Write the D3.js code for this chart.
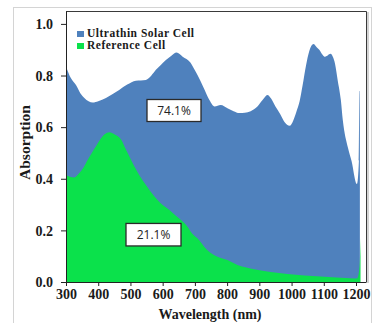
<!DOCTYPE html>
<html>
<head>
<meta charset="utf-8">
<script src="https://cdn.jsdelivr.net/npm/d3@7/dist/d3.min.js"></script>
<style>
  html, body { margin: 0; padding: 0; background: #ffffff; }
  svg { display: block; }
</style>
</head>
<body>
<svg id="chart" width="376" height="323"></svg>
<script>
// Absorption spectra: ultrathin solar cell vs. reference cell
const ultrathinWavelength = [300, 315, 331, 345, 357, 370, 383, 400, 424, 445, 465, 490, 517, 548, 565, 579, 595, 610, 628, 643, 662, 686, 700, 717, 730, 745, 761, 780, 801, 820, 838, 855, 873, 894, 910, 925, 937, 950, 965, 978, 994, 1005, 1015, 1025, 1034, 1045, 1055, 1068, 1078, 1086, 1095, 1102, 1112, 1121, 1128, 1135, 1143, 1153, 1159, 1175, 1186, 1203, 1209, 1211, 1212];
const ultrathinAbsorption = [0.834, 0.79, 0.763, 0.73, 0.713, 0.70, 0.695, 0.70, 0.713, 0.728, 0.744, 0.765, 0.78, 0.783, 0.80, 0.822, 0.842, 0.86, 0.878, 0.889, 0.873, 0.85, 0.82, 0.78, 0.745, 0.705, 0.68, 0.686, 0.673, 0.662, 0.655, 0.656, 0.662, 0.68, 0.705, 0.725, 0.71, 0.68, 0.65, 0.62, 0.605, 0.625, 0.66, 0.70, 0.76, 0.84, 0.895, 0.922, 0.91, 0.90, 0.882, 0.873, 0.878, 0.884, 0.873, 0.845, 0.783, 0.705, 0.628, 0.52, 0.47, 0.38, 0.47, 0.74, 0.74];

const referenceWavelength = [300, 312, 326, 340, 355, 367, 380, 395, 405, 420, 435, 450, 472, 487, 502, 520, 537, 560, 584, 600, 621, 640, 657, 677, 690, 707, 738, 770, 801, 832, 860, 884, 935, 987, 1040, 1090, 1140, 1194, 1204, 1211, 1214];
const referenceAbsorption = [0.415, 0.408, 0.405, 0.42, 0.445, 0.473, 0.50, 0.53, 0.55, 0.572, 0.58, 0.572, 0.55, 0.51, 0.473, 0.43, 0.395, 0.355, 0.318, 0.298, 0.279, 0.258, 0.24, 0.214, 0.19, 0.17, 0.124, 0.098, 0.085, 0.066, 0.056, 0.049, 0.039, 0.031, 0.025, 0.021, 0.017, 0.014, 0.015, 0.06, 0.17];

const seriesNames = ["Ultrathin Solar Cell", "Reference Cell"];
const seriesColors = ["#4f81bd", "#0be14b"];
const integratedLabels = ["74.1%", "21.1%"];

const xTicks = [300, 400, 500, 600, 700, 800, 900, 1000, 1100, 1200];
const yTicks = [0.0, 0.2, 0.4, 0.6, 0.8, 1.0];

const svg = d3.select("#chart");
const serif = "'Liberation Serif', 'Times New Roman', serif";

const x = d3.scaleLinear().domain([300, 1231]).range([66, 366]);
const y = d3.scaleLinear().domain([0, 1.05]).range([282, 11]);

// outer figure border
svg.append("rect")
  .attr("x", 13.5).attr("y", 7.5).attr("width", 358).attr("height", 330)
  .attr("fill", "none").attr("stroke", "#d4d4d4").attr("stroke-width", 1);

const area = d3.area()
  .x(d => x(d[0]))
  .y0(y(0))
  .y1(d => y(d[1]))
  .curve(d3.curveMonotoneX);

function closeSeries(ws, vs) {
  return ws.map((w, i) => [w, vs[i]]);
}

const ultra = closeSeries(ultrathinWavelength, ultrathinAbsorption);
const ref = closeSeries(referenceWavelength, referenceAbsorption);

svg.append("path").datum(ultra).attr("d", area).attr("fill", seriesColors[0]);
svg.append("path").datum(ref).attr("d", area).attr("fill", seriesColors[1]);

// plot frame (top and right)
svg.append("path")
  .attr("d", `M${x.range()[0]},${y.range()[1] + 0.5}H${x.range()[1] + 0.5}V${y(0)}`)
  .attr("fill", "none").attr("stroke", "#3a3a3a").attr("stroke-width", 1);
svg.append("line")
  .attr("x1", x.range()[1] + 2).attr("x2", x.range()[1] + 2)
  .attr("y1", y.range()[1] + 1).attr("y2", y(0) + 1)
  .attr("stroke", "#a8a8a8").attr("stroke-width", 1);

// axes
const yAxis = svg.append("g")
  .attr("transform", `translate(${x.range()[0]},0)`)
  .call(d3.axisLeft(y).tickValues(yTicks).tickFormat(d3.format(".1f")).tickSize(5).tickSizeOuter(0));
yAxis.select(".domain").attr("stroke", "#222");
yAxis.selectAll(".tick line").attr("stroke", "#222");
yAxis.selectAll(".tick text")
  .attr("x", -13).attr("dy", "0.33em")
  .attr("font-family", serif).attr("font-weight", "bold").attr("font-size", 14).attr("fill", "#1a1a1a");

const xAxis = svg.append("g")
  .attr("transform", `translate(0,${y(0)})`)
  .call(d3.axisBottom(x).tickValues(xTicks).tickFormat(d3.format("d")).tickSize(4).tickSizeOuter(0));
xAxis.select(".domain").attr("stroke", "#222");
xAxis.selectAll(".tick line").attr("stroke", "#222");
xAxis.selectAll(".tick text")
  .attr("y", 17).attr("dy", 0)
  .attr("font-family", serif).attr("font-weight", "bold").attr("font-size", 14).attr("fill", "#1a1a1a");

// axis titles
svg.append("text")
  .attr("x", 210).attr("y", 318.5)
  .attr("text-anchor", "middle")
  .attr("font-family", serif).attr("font-weight", "bold").attr("font-size", 14)
  .attr("fill", "#1a1a1a")
  .text("Wavelength (nm)");

svg.append("text")
  .attr("transform", "translate(30,142.5) rotate(-90)")
  .attr("text-anchor", "middle")
  .attr("font-family", serif).attr("font-weight", "bold").attr("font-size", 15.5)
  .attr("fill", "#1a1a1a")
  .text("Absorption");

// legend
const legend = svg.append("g");
seriesNames.forEach((name, i) => {
  const row = legend.append("g").attr("transform", `translate(77,${31 + i * 12})`);
  row.append("rect").attr("x", 0).attr("y", 0).attr("width", 7).attr("height", 6).attr("fill", seriesColors[i]);
  row.append("text")
    .attr("x", 10).attr("y", 6.3)
    .attr("font-family", serif).attr("font-weight", "bold").attr("font-size", 11.5)
    .attr("letter-spacing", 0.5)
    .attr("fill", "#1a1a1a")
    .text(name);
});

// integrated absorption boxes
const boxes = [
  { label: integratedLabels[0], cx: 174, cy: 110.5, w: 54, h: 22 },
  { label: integratedLabels[1], cx: 153.5, cy: 234.7, w: 55, h: 22.5 }
];
boxes.forEach(b => {
  svg.append("rect")
    .attr("x", b.cx - b.w / 2).attr("y", b.cy - b.h / 2)
    .attr("width", b.w).attr("height", b.h)
    .attr("fill", "#ffffff").attr("stroke", "#2a2a2a").attr("stroke-width", 1.3);
  svg.append("text")
    .attr("x", b.cx).attr("y", b.cy).attr("dy", "0.36em")
    .attr("text-anchor", "middle")
    .attr("font-family", "'Open Sans', 'Liberation Sans', sans-serif").attr("font-size", 12)
    .attr("fill", "#222")
    .text(b.label);
});
</script>
</body>
</html>
